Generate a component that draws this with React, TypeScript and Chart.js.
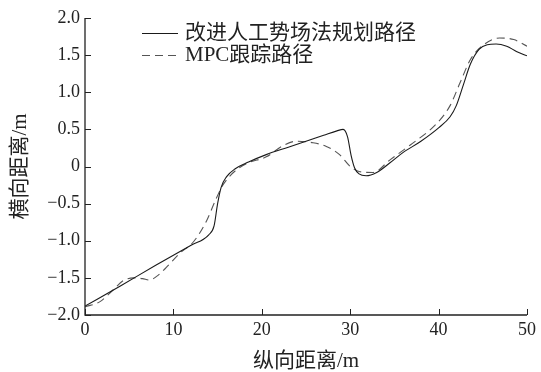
import React, { useEffect, useRef } from "react";
import { Chart, registerables } from "chart.js";
Chart.register(...registerables);

const plannedX = [0, 4, 8, 12, 14, 14.6, 15.0, 15.4, 16.0, 17.0, 18.5, 20.5, 23, 25, 27, 28.5, 29.2, 29.7, 30.1, 30.5, 31.0, 31.8, 33, 34.5, 36, 38, 40, 41.3, 42, 42.8, 43.6, 44.6, 45.5, 46.5, 47.7, 48.8, 50];
const plannedY = [-1.88, -1.61, -1.33, -1.06, -0.92, -0.8, -0.5, -0.28, -0.14, -0.03, 0.06, 0.16, 0.26, 0.34, 0.42, 0.48, 0.5, 0.4, 0.15, -0.02, -0.1, -0.125, -0.08, 0.05, 0.19, 0.34, 0.52, 0.67, 0.82, 1.1, 1.38, 1.58, 1.64, 1.65, 1.62, 1.55, 1.49];

const mpcX = [0, 1.7, 3.2, 4.3, 5.5, 6.5, 7.3, 8.1, 9.2, 10.7, 12.3, 13.8, 14.7, 15.5, 16.3, 17.3, 18.5, 20.5, 22.4, 23.9, 25.8, 27.3, 28.8, 30.0, 31.1, 32.6, 34.5, 36.8, 39.8, 41.3, 42.4, 43.6, 45.1, 46.9, 48.5, 50];
const mpcY = [-1.89, -1.82, -1.66, -1.54, -1.5, -1.51, -1.53, -1.48, -1.36, -1.17, -1.01, -0.72, -0.47, -0.27, -0.14, -0.03, 0.05, 0.13, 0.28, 0.34, 0.32, 0.27, 0.16, 0.0, -0.07, -0.08, 0.09, 0.29, 0.58, 0.82, 1.12, 1.44, 1.64, 1.73, 1.71, 1.62];

const seriesNames = ["改进人工势场法规划路径", "MPC跟踪路径"];
const xTitle = "纵向距离/m";
const yTitle = "横向距离/m";
const xTicks = [0, 10, 20, 30, 40, 50];
const yTicks = [-2, -1.5, -1, -0.5, 0, 0.5, 1, 1.5, 2];

const FONT = "'Liberation Serif', 'Noto Sans CJK SC', serif";

const fmtY = (v: number) => (v === 0 ? "0" : (v < 0 ? "\u2212" : "") + Math.abs(v).toFixed(1));

const innerTicks = {
  id: "innerTicks",
  afterDraw(chart: any) {
    const ctx = chart.ctx;
    const x = chart.scales.x;
    const y = chart.scales.y;
    const a = chart.chartArea;
    ctx.save();
    ctx.strokeStyle = "#222";
    ctx.lineWidth = 1.3;
    ctx.beginPath();
    ctx.moveTo(a.left, a.top);
    ctx.lineTo(a.left, a.bottom);
    ctx.lineTo(a.right, a.bottom);
    ctx.stroke();
    ctx.lineWidth = 1;
    ctx.beginPath();
    for (const t of xTicks) {
      const px = Math.round(x.getPixelForValue(t)) + 0.5;
      ctx.moveTo(px, a.bottom);
      ctx.lineTo(px, a.bottom - 6);
    }
    for (const t of yTicks) {
      const py = Math.round(y.getPixelForValue(t)) + 0.5;
      ctx.moveTo(a.left, py);
      ctx.lineTo(a.left + 6, py);
    }
    ctx.stroke();
    // legend
    const lx0 = a.left + 57;
    const lx1 = a.left + 93;
    const tx = a.left + 100;
    const rows = [a.top + 15, a.top + 37];
    ctx.font = "21px " + FONT;
    ctx.fillStyle = "#222";
    ctx.textBaseline = "middle";
    chart.data.datasets.forEach((ds: any, i: number) => {
      ctx.save();
      ctx.strokeStyle = ds.borderColor;
      ctx.lineWidth = 1;
      ctx.setLineDash(ds.borderDash || []);
      ctx.beginPath();
      ctx.moveTo(lx0, rows[i] + 0.5);
      ctx.lineTo(lx1, rows[i] + 0.5);
      ctx.stroke();
      ctx.restore();
      ctx.fillText(ds.label, tx, rows[i]);
    });
    ctx.restore();
  },
};

export default function App() {
  const ref = useRef<HTMLCanvasElement>(null);
  useEffect(() => {
    document.body.style.margin = "0";
    const chart = new Chart(ref.current!, {
      type: "line",
      data: {
        datasets: [
          {
            label: seriesNames[0],
            data: plannedX.map((x, i) => ({ x, y: plannedY[i] })),
            borderColor: "#1a1a1a",
            borderWidth: 1.1,
            pointRadius: 0,
            cubicInterpolationMode: "monotone",
            fill: false,
          },
          {
            label: seriesNames[1],
            data: mpcX.map((x, i) => ({ x, y: mpcY[i] })),
            borderColor: "#555555",
            borderWidth: 1.1,
            borderDash: [8, 5],
            pointRadius: 0,
            cubicInterpolationMode: "monotone",
            fill: false,
          },
        ],
      },
      options: {
        responsive: false,
        animation: false,
        layout: { padding: { top: 18, right: 14, left: 0, bottom: 0 } },
        plugins: { legend: { display: false }, tooltip: { enabled: false } },
        scales: {
          x: {
            type: "linear",
            min: 0,
            max: 50,
            border: { display: false },
            grid: { display: false, drawTicks: false },
            afterBuildTicks: (s: any) => { s.ticks = xTicks.map((v) => ({ value: v })); },
            afterFit: (s: any) => { s.height = 57; },
            ticks: { color: "#222", padding: 4, maxRotation: 0, font: { family: FONT, size: 18 } },
            title: { display: true, text: xTitle, color: "#222", padding: { top: 0, bottom: 0 }, font: { family: FONT, size: 21, lineHeight: 1 } },
          },
          y: {
            type: "linear",
            min: -2,
            max: 2,
            border: { display: false },
            grid: { display: false, drawTicks: false },
            afterBuildTicks: (s: any) => { s.ticks = yTicks.map((v) => ({ value: v })); },
            afterFit: (s: any) => { s.width = 85; },
            ticks: { color: "#222", padding: 5, callback: (v: any) => fmtY(Number(v)), font: { family: FONT, size: 18 } },
            title: { display: true, text: yTitle, color: "#222", padding: { top: 10, bottom: 0 }, font: { family: FONT, size: 21, lineHeight: 1 } },
          },
        },
      },
      plugins: [innerTicks],
    });
    return () => chart.destroy();
  }, []);
  return (
    <div style={{ position: "fixed", left: 0, top: 0, width: 541, height: 372, background: "#fff" }}>
      <canvas ref={ref} width={541} height={372} />
    </div>
  );
}
